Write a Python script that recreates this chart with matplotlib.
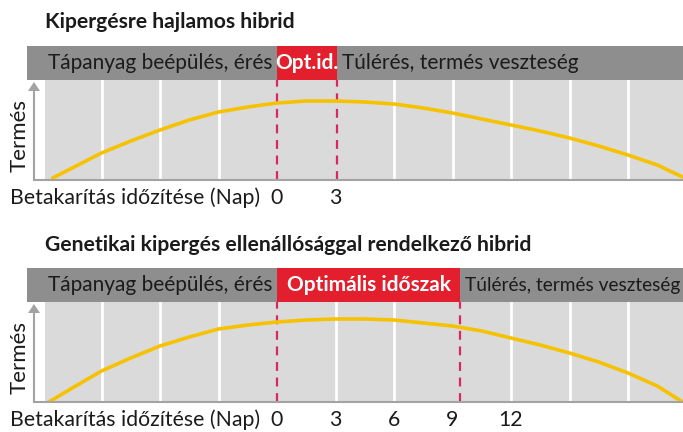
import matplotlib
matplotlib.use("Agg")
import matplotlib.pyplot as plt
from matplotlib.patches import Rectangle, Polygon

plt.rcParams['font.family'] = ['Lato', 'DejaVu Sans']

W, H = 683, 432
DPI = 100

# ---- data -------------------------------------------------------------
titles = ["Kipergésre hajlamos hibrid",
          "Genetikai kipergés ellenállósággal rendelkező hibrid"]
phase_labels = ["Tápanyag beépülés, érés", "Túlérés, termés veszteség"]
optimum_labels = ["Opt.id.", "Optimális időszak"]
optimum_windows = [(0.0, 3.1), (0.0, 9.4)]      # days
axis_label = "Betakarítás időzítése (Nap)"
y_label = "Termés"
tick_days = [[0, 3], [0, 3, 6, 9, 12]]
grid_days = [-9, -6, -3, 3, 6, 9, 12, 15, 18]

days_a = [-11.5, -10.5, -9, -7.5, -6, -4.5, -3, -1.5, 0, 1.5, 3, 4.5, 6,
          7.5, 9, 10.5, 12, 13.5, 15, 16.5, 18, 19.5, 20.8]
yield_a = [2, 12, 27, 39, 50, 60, 68, 73, 77, 79, 79, 78, 76,
           72, 67, 61, 55, 49, 42, 34, 25, 15, 3]

days_b = [-11.7, -10.5, -9, -7.5, -6, -4.5, -3, -1.5, 0, 1.5, 3, 4.5, 6,
          7.5, 9, 10.5, 12, 13.5, 15, 16.5, 18, 19.5, 20.8]
yield_b = [0, 14, 31, 44, 56, 65, 73, 77, 80, 82, 83, 83, 82,
           79, 76, 71, 64, 57, 49, 40, 29, 16, 0]

curves = [(days_a, yield_a), (days_b, yield_b)]

# ---- styling ----------------------------------------------------------
C_BAND = "#8e8e8e"
C_PLOT = "#dadada"
C_RED = "#e31e2d"
C_DASH = "#d8285f"
C_CURVE = "#f6c200"
C_AXIS = "#a3a3a3"
C_TEXT = "#1b1b1b"

FS_BAND = 15
FS_LATE = [15, 13.8]        # right-hand band label per panel
FS_TITLE = 15.2
FS_LABEL = 15.3

PX_PER_DAY = 19.5
X0_PX = 277          # pixel column of day 0
LEFT_PX, RIGHT_PX = 27, 683
XMIN = (LEFT_PX - X0_PX) / PX_PER_DAY
XMAX = (RIGHT_PX - X0_PX) / PX_PER_DAY
PLOT_H = 100         # plot area height (px); band sits above it
BAND_H = 34

fig = plt.figure(figsize=(W / DPI, H / DPI), dpi=DPI)


def px_axes(left, top, right, bottom):
    return fig.add_axes([left / W, 1 - bottom / H, (right - left) / W,
                         (bottom - top) / H])


panel_tops = [46, 268]      # top pixel of header band
title_y = [22, 245]
label_y = [198, 420]

for i in range(2):
    top = panel_tops[i]
    ax = px_axes(LEFT_PX, top, RIGHT_PX, top + BAND_H + PLOT_H)
    ax.set_xlim(XMIN, XMAX)
    ax.set_ylim(0, PLOT_H + BAND_H)
    ax.axis("off")

    axis_x = (34 - X0_PX) / PX_PER_DAY
    plot_x0 = (45 - X0_PX) / PX_PER_DAY

    # plot background and white column separators
    ax.add_patch(Rectangle((plot_x0, 0), XMAX - plot_x0, PLOT_H,
                           facecolor=C_PLOT, edgecolor="none", zorder=0))
    o0, o1 = optimum_windows[i]
    for d in grid_days:
        if abs(d - o0) < 0.8 or abs(d - o1) < 0.8:
            continue
        ax.plot([d, d], [0, PLOT_H], color="white", lw=2.0, zorder=1)

    # header band with optimum highlight
    ax.add_patch(Rectangle((XMIN, PLOT_H), XMAX - XMIN, BAND_H,
                           facecolor=C_BAND, edgecolor="none", zorder=2))
    ax.add_patch(Rectangle((o0, PLOT_H), o1 - o0, BAND_H,
                           facecolor=C_RED, edgecolor="none", zorder=3))

    band_mid = PLOT_H + BAND_H / 2
    ax.text((48 - X0_PX) / PX_PER_DAY, band_mid, phase_labels[0],
            fontsize=FS_BAND, color=C_TEXT, va="center", ha="left", zorder=4)
    ax.text((o0 + o1) / 2, band_mid, optimum_labels[i], fontsize=FS_BAND,
            fontweight="bold", color="white", va="center", ha="center",
            zorder=4)
    ax.text(o1 + 0.25, band_mid, phase_labels[1], fontsize=FS_LATE[i],
            color=C_TEXT, va="center", ha="left", zorder=4)

    # dashed boundaries of the optimal window
    for d in (o0, o1):
        ax.plot([d, d], [0, PLOT_H], color=C_DASH, lw=1.6,
                dashes=(4, 3), zorder=5)

    # yield curve
    xs, ys = curves[i]
    ax.plot(xs, ys, color=C_CURVE, lw=2.6, solid_capstyle="round",
            zorder=6)

    # axes with arrow head
    ax.plot([axis_x, XMAX], [0, 0], color=C_AXIS, lw=1.5, zorder=7,
            clip_on=False)
    ax.plot([axis_x, axis_x], [0, PLOT_H - 10], color=C_AXIS, lw=1.5,
            zorder=7)
    aw = 6 / PX_PER_DAY
    ax.add_patch(Polygon([[axis_x - aw, PLOT_H - 11],
                          [axis_x + aw, PLOT_H - 11],
                          [axis_x, PLOT_H - 2]], closed=True,
                         facecolor=C_AXIS, edgecolor="none", zorder=7))

    # texts outside the panel
    fig.text(45 / W, 1 - title_y[i] / H, titles[i], fontsize=FS_TITLE,
             fontweight="bold", color=C_TEXT, va="center", ha="left")
    fig.text(20 / W, 1 - (top + BAND_H + 55) / H, y_label, fontsize=16,
             rotation=90, color=C_TEXT, va="center", ha="center")
    fig.text(10 / W, 1 - label_y[i] / H, axis_label, fontsize=FS_LABEL,
             color=C_TEXT, va="center", ha="left")
    for d in tick_days[i]:
        fig.text((X0_PX + d * PX_PER_DAY) / W, 1 - label_y[i] / H, str(d),
                 fontsize=FS_LABEL, color=C_TEXT, va="center", ha="center")

fig.savefig("out.png", dpi=DPI, facecolor="white")
